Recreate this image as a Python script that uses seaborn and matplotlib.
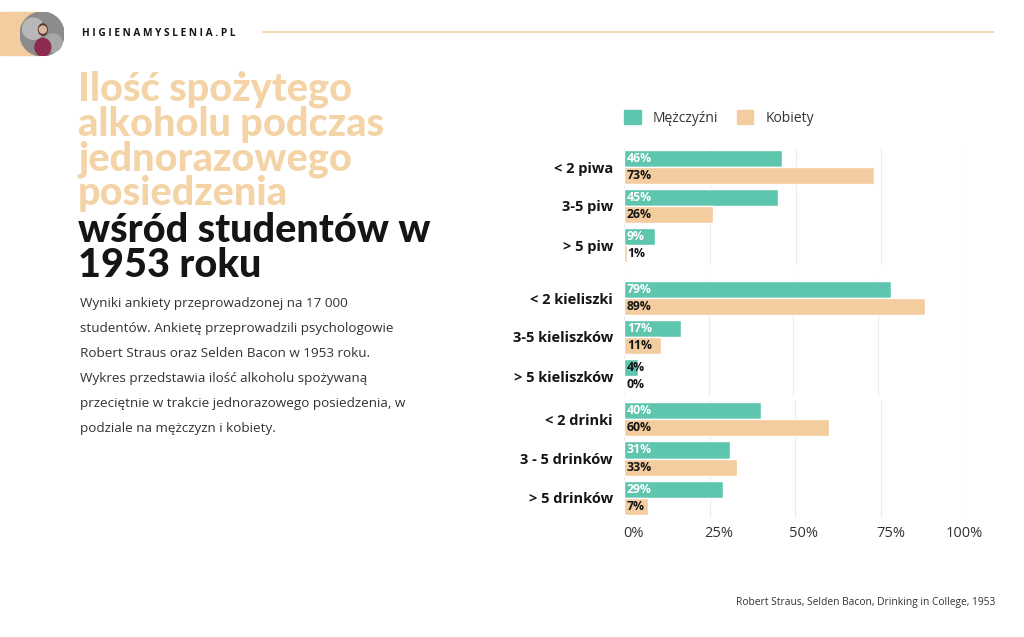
"""
Ilość spożytego alkoholu podczas jednorazowego posiedzenia (1953)
Recreation of the higienamyslenia.pl infographic with seaborn
"""

import matplotlib
matplotlib.use("Agg")
import matplotlib.pyplot as plt
import matplotlib.transforms as mtransforms
from matplotlib.patches import Rectangle, Circle, Ellipse, Patch
import pandas as pd
import seaborn as sns

W, H = 1024, 637

TEAL = "#5EC5AE"
PEACH = "#F3CD9F"
TITLE_PEACH = "#F4D3A6"
DARK = "#151515"
GREY_TXT = "#333333"

# --- data -------------------------------------------------------------
genders = ["Mężczyźni", "Kobiety"]

beer_labels = ["< 2 piwa", "3-5 piw", "> 5 piw"]
beer_men = [46, 45, 9]
beer_women = [73, 26, 1]

wine_labels = ["< 2 kieliszki", "3-5 kieliszków", "> 5 kieliszków"]
wine_men = [79, 17, 4]
wine_women = [89, 11, 0]

drink_labels = ["< 2 drinki", "3 - 5 drinków", "> 5 drinków"]
drink_men = [40, 31, 29]
drink_women = [60, 33, 7]

x_ticks = [0, 25, 50, 75, 100]
x_tick_labels = ["0%", "25%", "50%", "75%", "100%"]

title_peach_lines = ["Ilość spożytego", "alkoholu podczas", "jednorazowego", "posiedzenia"]
title_dark_lines = ["wśród studentów w", "1953 roku"]

paragraph = [
    "Wyniki ankiety przeprowadzonej na 17 000",
    "studentów. Ankietę przeprowadzili psychologowie",
    "Robert Straus oraz Selden Bacon w 1953 roku.",
    "Wykres przedstawia ilość alkoholu spożywaną",
    "przeciętnie w trakcie jednorazowego posiedzenia, w",
    "podziale na mężczyzn i kobiety.",
]
source = "Robert Straus, Selden Bacon, Drinking in College, 1953"


def px(left, top, width, height):
    """pixel box (from top-left) -> figure fraction rect"""
    return [left / W, 1 - (top + height) / H, width / W, height / H]


def fy(y):
    return 1 - y / H


sns.set_theme(style="white")
plt.rcParams["font.family"] = ["Open Sans", "DejaVu Sans"]

fig = plt.figure(figsize=(W / 100, H / 100), dpi=100)
fig.patch.set_facecolor("white")

# --- header -----------------------------------------------------------
fig.patches.append(Rectangle((0, fy(55)), 42 / W, 43 / H, transform=fig.transFigure,
                             color=PEACH, zorder=0))
ax_av = fig.add_axes(px(20, 12, 44, 44))
ax_av.set_zorder(5)
ax_av.set_xlim(0, 1)
ax_av.set_ylim(0, 1)
ax_av.add_patch(Circle((0.5, 0.5), 0.5, color="#8c8c8c"))
ax_av.add_patch(Circle((0.3, 0.62), 0.24, color="#b8b8b8"))
ax_av.add_patch(Circle((0.75, 0.3), 0.2, color="#a8a8a8"))
ax_av.add_patch(Ellipse((0.52, 0.2), 0.36, 0.4, color="#8e2a4f"))
ax_av.add_patch(Ellipse((0.52, 0.6), 0.2, 0.26, color="#5a3b30"))
ax_av.add_patch(Circle((0.52, 0.6), 0.08, color="#d9b7a0"))
ax_av.axis("off")

fig.text(82 / W, fy(33), " ".join("HIGIENAMYSLENIA.PL"), fontsize=7.3,
         fontweight="bold", color=DARK, va="center", ha="left")
fig.add_artist(plt.Line2D([263 / W, 994 / W], [fy(32), fy(32)], color=PEACH, lw=1.1))

# --- title & description ---------------------------------------------
baselines = [100, 136, 171, 205, 242, 277]
for line, y in zip(title_peach_lines + title_dark_lines, baselines):
    col = TITLE_PEACH if line in title_peach_lines else DARK
    fig.text(78 / W, fy(y), line, fontsize=28.5, fontweight="black",
             family=["Lato", "DejaVu Sans"], color=col, va="baseline", ha="left")

for i, line in enumerate(paragraph):
    fig.text(80 / W, fy(307 + i * 25), line, fontsize=9.7, color=GREY_TXT,
             va="baseline", ha="left")

fig.text(995 / W, fy(602), source, fontsize=7.4, color=GREY_TXT, va="center", ha="right")

# --- charts -----------------------------------------------------------
panels = [
    (beer_labels, beer_men, beer_women, px(624, 147.5, 343, 117)),
    (wine_labels, wine_men, wine_women, px(624, 278.5, 338, 117)),
    (drink_labels, drink_men, drink_women, px(624, 399.5, 342, 118)),
]

for i, (labels, men, women, rect) in enumerate(panels):
    ax = fig.add_axes(rect)
    df = pd.DataFrame({
        "kategoria": labels + labels,
        "płeć": [genders[0]] * len(men) + [genders[1]] * len(women),
        "procent": men + women,
    })
    sns.barplot(data=df, y="kategoria", x="procent", hue="płeć", hue_order=genders,
                palette=[TEAL, PEACH], saturation=1, width=0.88, orient="h",
                legend=False, ax=ax)

    for container, vals, base_col in zip(ax.containers, [men, women], ["white", DARK]):
        for bar, v in zip(container, vals):
            col = base_col if v >= 5 else DARK
            ax.annotate(f"{v}%", xy=(0, bar.get_y() + bar.get_height() / 2),
                        xytext=(2, 0), textcoords="offset points", ha="left",
                        va="center", fontsize=8.8, fontweight="bold", color=col)

    ax.set_xlim(0, 100)
    ax.set_ylim(len(labels) - 0.5, -0.5)
    ax.set_xticks(x_ticks)
    ax.grid(axis="x", color="#ececec", lw=0.8)
    ax.grid(axis="y", visible=False)
    ax.set_axisbelow(True)
    sns.despine(ax=ax, left=True, bottom=True)
    ax.set_xlabel("")
    ax.set_ylabel("")
    ax.tick_params(axis="both", length=0)
    ax.tick_params(axis="y", pad=8)
    for t in ax.get_yticklabels():
        t.set_fontsize(10.5)
        t.set_fontweight("bold")
        t.set_color(DARK)
    if i == len(panels) - 1:
        ax.set_xticklabels(x_tick_labels, fontsize=10.5, color=GREY_TXT)
        ax.tick_params(axis="x", pad=6)
        # labels sit a little right of their gridlines in the original
        shifts = [9, 9, 9, 10, -2]
        for t, dx in zip(ax.get_xticklabels(), shifts):
            t.set_transform(t.get_transform() +
                            mtransforms.ScaledTranslation(dx / 100, 0, fig.dpi_scale_trans))
    else:
        ax.set_xticklabels([])

fig.legend(handles=[Patch(color=TEAL), Patch(color=PEACH)], labels=genders,
           loc="center left", bbox_to_anchor=(624 / W, fy(118)), ncol=2,
           frameon=False, handlelength=1.2, handleheight=1.2,
           handletextpad=0.85, columnspacing=1.35, borderpad=0, borderaxespad=0,
           prop={"family": "Open Sans", "size": 10}, labelcolor=GREY_TXT)

fig.savefig("out.png", dpi=100, facecolor="white")
